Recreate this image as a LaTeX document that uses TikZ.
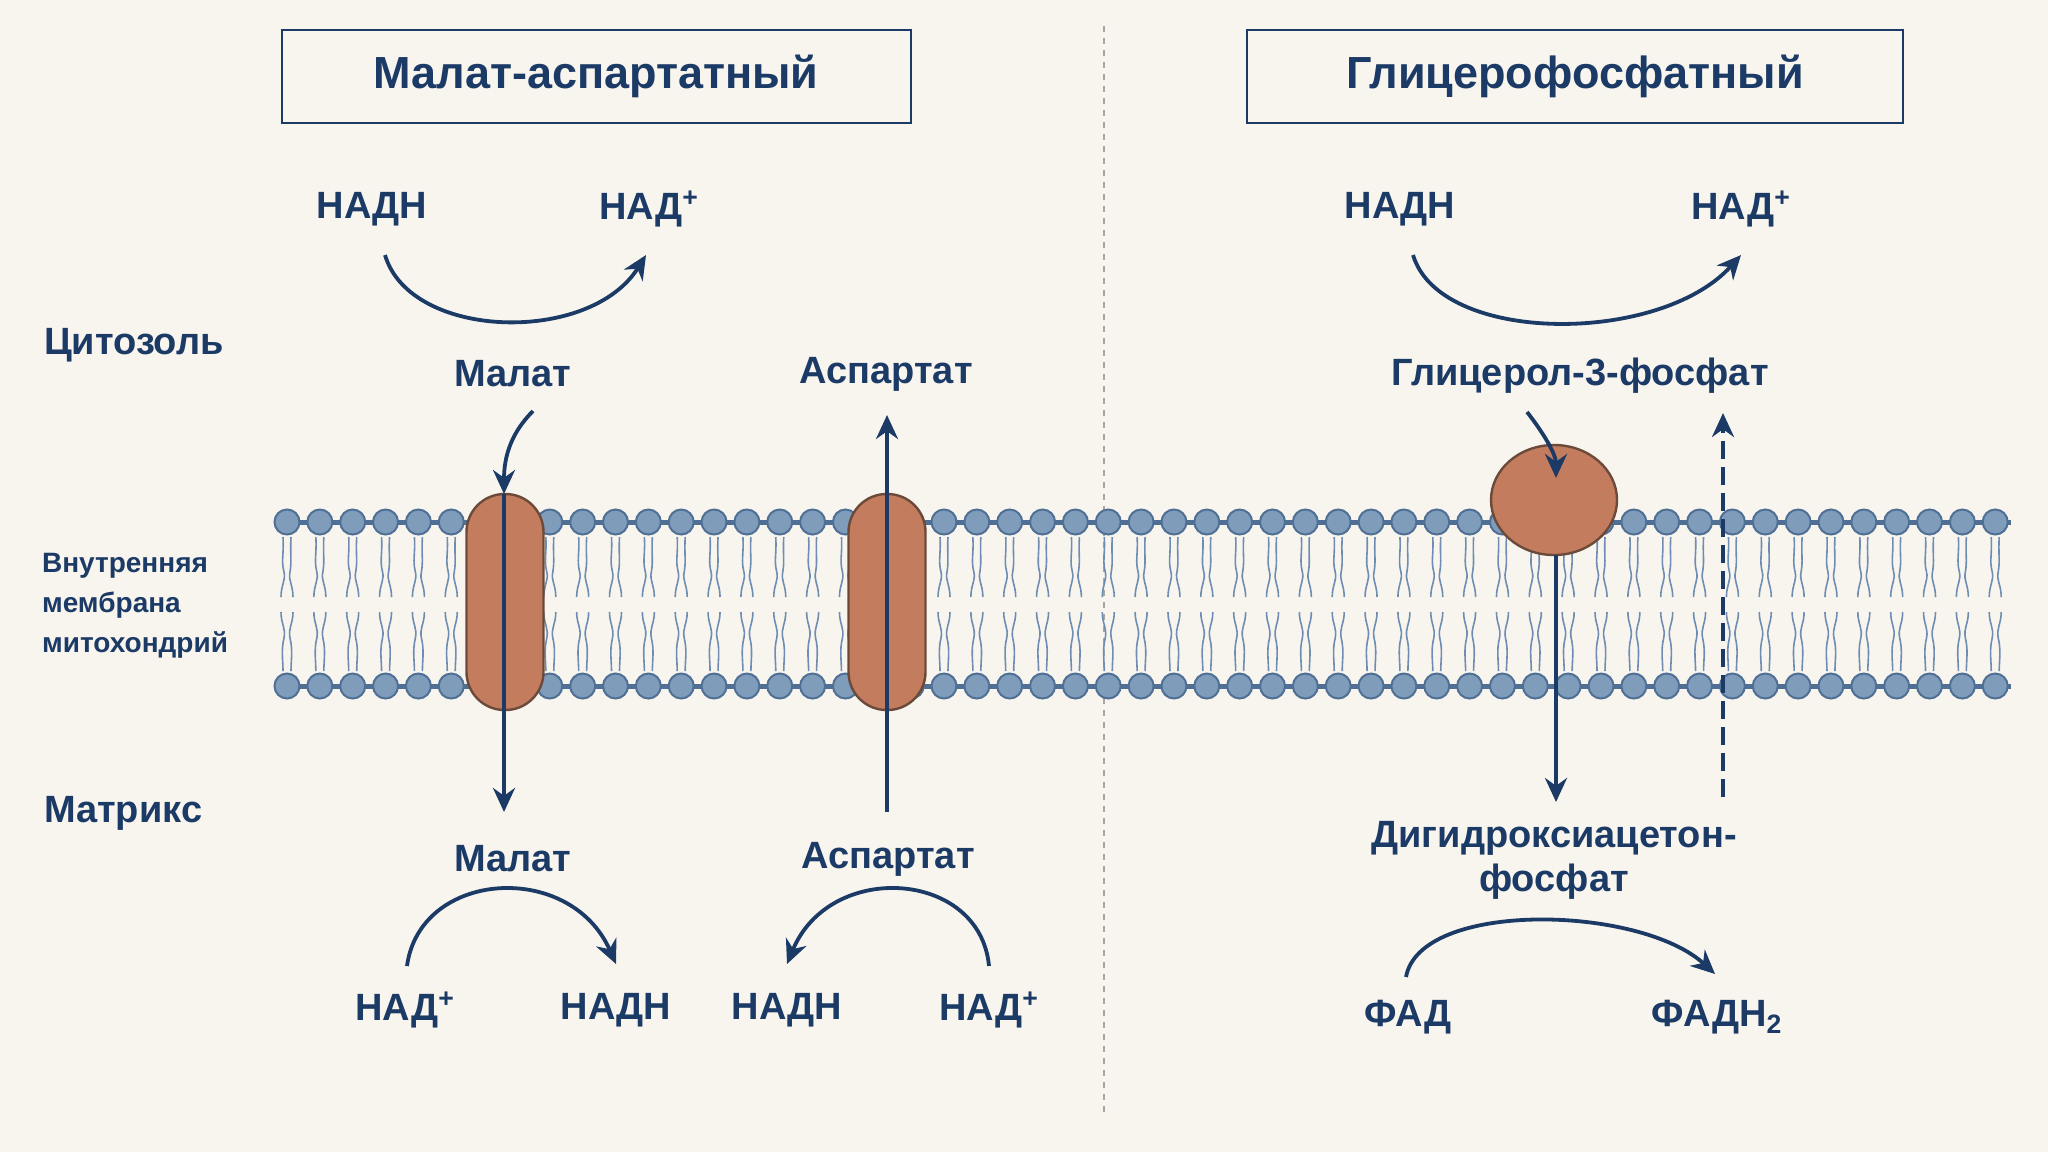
\documentclass[tikz,border=0pt]{standalone}
\usepackage{fontspec}
\setmainfont{Liberation Sans}
\usetikzlibrary{arrows.meta,shapes.geometric}
\definecolor{navy}{HTML}{1B3A66}
\definecolor{bg}{HTML}{F8F5EF}
\definecolor{head}{HTML}{7F9CBB}
\definecolor{headd}{HTML}{4F6F95}
\definecolor{tail}{HTML}{6F8DB2}
\definecolor{prot}{HTML}{C47C5E}
\definecolor{protd}{HTML}{6B4A3A}
\begin{document}
\begin{tikzpicture}[x=0.5pt,y=-0.5pt,
  lab/.style={text=navy,font=\bfseries\fontsize{19}{22}\selectfont},
  side/.style={text=navy,font=\bfseries\fontsize{19}{22}\selectfont,anchor=west},
  mem/.style={text=navy,font=\bfseries\fontsize{14}{20}\selectfont,anchor=west,align=left},
  ttl/.style={draw=navy,line width=1pt,fill=bg,minimum width=314.5pt,minimum height=46.5pt,text=navy,font=\bfseries\fontsize{22.5}{26}\selectfont},
  arr/.style={draw=navy,line width=1.9pt,-{Stealth[length=12pt,width=11pt]}},
  prot/.style={fill=prot,draw=protd,line width=1.2pt}]
\fill[bg] (0,0) rectangle (2048,1152);
\useasboundingbox (0,0) rectangle (2048,1152);
% divider
\draw[gray!70,dashed,line width=0.7pt] (1104,26) -- (1104,1117);
% titles
\node[ttl] (t1) at (596,76) {Малат-аспартатный};
\node[ttl,minimum width=328pt] (t2) at (1575,76) {Глицерофосфатный};
% side labels
\node[side] (cyt) at (37,345) {Цитозоль};
\node[mem] (mm) at (35,606) {Внутренняя\\мембрана\\митохондрий};
\node[side] (mat) at (37,813) {Матрикс};
% membrane
\draw[headd,line width=2.5pt] (287,522) -- (2011,522);
\draw[headd,line width=2.5pt] (287,686) -- (2011,686);
\foreach \i in {0,...,52}{
  \pgfmathsetmacro{\x}{287+32.85*\i}
  \draw[tail,line width=0.8pt] (\x-4,537) .. controls (\x-3,555) and (\x-6,560) .. (\x-3,572) .. controls (\x-1,580) and (\x-6,585) .. (\x-6,597);
  \draw[tail,line width=0.8pt] (\x+4,537) .. controls (\x+3,555) and (\x+5,560) .. (\x+3,572) .. controls (\x+1,580) and (\x+6,585) .. (\x+6,597);
  \draw[tail,line width=0.8pt] (\x-6,612) .. controls (\x-6,624) and (\x-1,628) .. (\x-3,638) .. controls (\x-6,650) and (\x-4,660) .. (\x-4,671);
  \draw[tail,line width=0.8pt] (\x+6,612) .. controls (\x+6,624) and (\x+1,628) .. (\x+3,638) .. controls (\x+6,650) and (\x+4,660) .. (\x+4,671);
  \fill[head,draw=headd,line width=1pt] (\x,522) circle (12.5);
  \fill[head,draw=headd,line width=1pt] (\x,686) circle (12.5);
}
% transporters
\node[prot,rounded corners=19pt,minimum width=38.5pt,minimum height=108pt,inner sep=0pt] (p1) at (505,602) {};
\node[prot,rounded corners=19pt,minimum width=38.5pt,minimum height=108pt,inner sep=0pt] (p2) at (887,602) {};
\node[prot,ellipse,minimum width=63pt,minimum height=55pt,inner sep=0pt] (p3) at (1554,500) {};
% malate-aspartate labels
\node[lab] (n1) at (372,209) {НАДН};
\node[lab] (n2) at (649,209) {НАД\textsuperscript{+}};
\node[lab] (mc) at (513,374) {Малат};
\node[lab] (ac) at (886,374) {Аспартат};
\node[lab] (mm2) at (513,859) {Малат};
\node[lab] (am) at (888,859) {Аспартат};
\node[lab] (n3) at (405,1010) {НАД\textsuperscript{+}};
\node[lab] (n4) at (616,1010) {НАДН};
\node[lab] (n5) at (787,1010) {НАДН};
\node[lab] (n6) at (989,1010) {НАД\textsuperscript{+}};
\coordinate (a1s) at (385,255); \coordinate (a1e) at (646,255);
\draw[arr] (a1s) .. controls (410,340) and (590,345) .. (a1e);
\coordinate (a2s) at (407,966); \coordinate (a2e) at (616,964);
\draw[arr] (a2s) .. controls (420,870) and (570,860) .. (a2e);
\coordinate (a3s) at (989,966); \coordinate (a3e) at (787,964);
\draw[arr] (a3s) .. controls (980,870) and (830,860) .. (a3e);
\coordinate (m1) at (533,411); \coordinate (m2) at (504,494); \coordinate (m3) at (504,812);
\draw[arr] (m1) .. controls (512,432) and (504,455) .. (m2);
\draw[arr] (m2) -- (m3);
\coordinate (s1) at (887,812); \coordinate (s2) at (887,415);
\draw[arr] (s1) -- (s2);
% glycerophosphate
\node[lab] (g1) at (1400,209) {НАДН};
\node[lab] (g2) at (1741,209) {НАД\textsuperscript{+}};
\node[lab] (g3) at (1580,376) {Глицерол-3-фосфат};
\node[lab,align=center] (g4) at (1554,860) {Дигидроксиацетон-\\фосфат};
\node[lab] (g5) at (1408,1017) {ФАД};
\node[lab] (g6) at (1717,1017) {ФАДН\textsubscript{2}};
\coordinate (b1s) at (1413,255); \coordinate (b1e) at (1741,255);
\draw[arr] (b1s) .. controls (1440,345) and (1660,345) .. (b1e);
\coordinate (b2s) at (1406,977); \coordinate (b2e) at (1715,974);
\draw[arr] (b2s) .. controls (1420,900) and (1640,905) .. (b2e);
\coordinate (c1) at (1527,412); \coordinate (c2) at (1556,478);
\draw[arr] (c1) .. controls (1545,435) and (1556,455) .. (c2);
\coordinate (c3) at (1556,555); \coordinate (c4) at (1556,802);
\draw[arr] (c3) -- (c4);
\coordinate (d1) at (1723,797); \coordinate (d2) at (1723,413);
\draw[arr,dashed,dash pattern=on 9pt off 4pt] (d1) -- (d2);
\end{tikzpicture}
\end{document}
